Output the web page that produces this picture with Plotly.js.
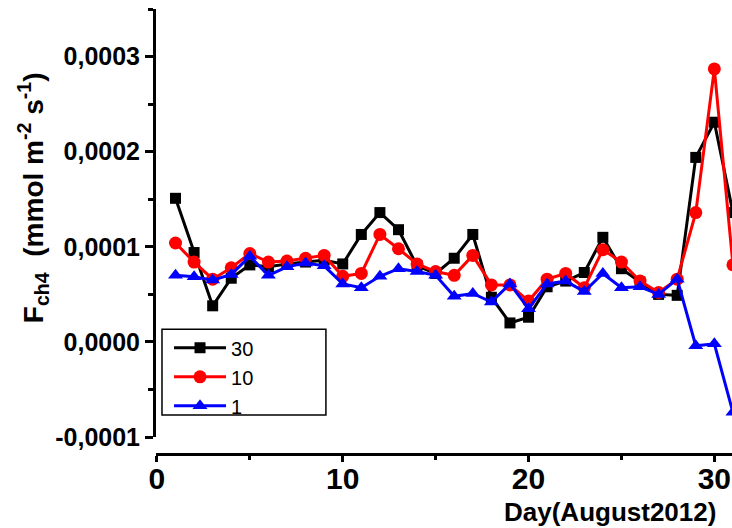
<!DOCTYPE html>
<html>
<head>
<meta charset="utf-8">
<script src="https://cdn.plot.ly/plotly-3.0.1.min.js"></script>
<style>html,body{margin:0;padding:0;background:#fff;}#chart{width:732px;height:528px;}</style>
</head>
<body>
<div id="chart"></div>
<script>
var days = [1,2,3,4,5,6,7,8,9,10,11,12,13,14,15,16,17,18,19,20,21,22,23,24,25,26,27,28,29,30,31];
var series30 = [0.000151,0.000094,0.000038,0.000067,0.000081,0.000079,0.000082,0.000084,0.000086,0.000082,0.000113,0.000136,0.000118,0.000080,0.000072,0.000088,0.000113,0.000047,0.000020,0.000026,0.000058,0.000064,0.000073,0.000110,0.000077,0.000063,0.000050,0.000049,0.000194,0.000231,0.000136];
var series10 = [0.000104,0.000084,0.000066,0.000078,0.000093,0.000084,0.000085,0.000088,0.000091,0.000069,0.000072,0.000113,0.000098,0.000082,0.000074,0.000070,0.000091,0.000060,0.000060,0.000043,0.000066,0.000072,0.000057,0.000097,0.000084,0.000064,0.000052,0.000066,0.000136,0.000287,0.000081];
var series1 = [0.000070,0.0000685,0.000065,0.000071,0.000090,0.000070,0.000079,0.000083,0.000080,0.000061,0.000057,0.000069,0.000077,0.000074,0.000070,0.000048,0.000051,0.000042,0.000061,0.000035,0.000061,0.000064,0.000053,0.000072,0.000057,0.000058,0.000050,0.000066,-0.000004,-0.000002,-0.000074];
var seriesNames = ['30','10','1'];
var xTicks = [0,10,20,30];
var yTicks = [-0.0001,0,0.0001,0.0002,0.0003];
var yTickText = ['-0,0001','0,0000','0,0001','0,0002','0,0003'];

var FONT = 'Liberation Sans, Arial, sans-serif';
var traces = [
  {x: days, y: series30, name: seriesNames[0], mode: 'lines+markers', type: 'scatter',
   line: {color: '#000000', width: 3}, marker: {symbol: 'square', size: 11, color: '#000000'}},
  {x: days, y: series10, name: seriesNames[1], mode: 'lines+markers', type: 'scatter',
   line: {color: '#ff0000', width: 3}, marker: {symbol: 'circle', size: 13, color: '#ff0000'}},
  {x: days, y: series1, name: seriesNames[2], mode: 'lines+markers', type: 'scatter',
   line: {color: '#0000ff', width: 3}, marker: {symbol: 'triangle-up', size: 13, color: '#0000ff'}}
];

var layout = {
  width: 732, height: 528,
  margin: {l: 156, r: 0, t: 9, b: 74, pad: 0},
  paper_bgcolor: '#ffffff', plot_bgcolor: '#ffffff',
  separators: ',.',
  showlegend: true,
  font: {family: FONT, color: '#000000'},
  xaxis: {
    range: [-0.05, 30.95], anchor: 'free', position: 0,
    showline: true, linecolor: '#000', linewidth: 3,
    showgrid: false, zeroline: false,
    ticks: 'outside', ticklen: 6, tickwidth: 3, tickcolor: '#000',
    tickvals: xTicks, ticktext: xTicks.map(String),
    ticklabelstandoff: -9,
    minor: {tickvals: [5,15,25], ticks: 'outside', ticklen: 4, tickwidth: 3, tickcolor: '#000', showgrid: false},
    tickfont: {family: FONT, size: 30, weight: 'bold', color: '#000'}
  },
  yaxis: {
    domain: [0.038, 1],
    range: [-0.0001000001, 0.0003500001],
    showline: true, linecolor: '#000', linewidth: 3,
    showgrid: false, zeroline: false,
    ticks: 'outside', ticklen: 8, tickwidth: 3, tickcolor: '#000',
    tickvals: yTicks, ticktext: yTickText,
    minor: {dtick: 0.00005, tick0: 0, ticks: 'outside', ticklen: 5, tickwidth: 3, tickcolor: '#000', showgrid: false},
    tickfont: {family: FONT, size: 25, weight: 'bold', color: '#000'}
  },
  legend: {
    x: 0.0226, y: 0.2825, xanchor: 'left', yanchor: 'top',
    bgcolor: 'rgba(0,0,0,0)', borderwidth: 0,
    itemwidth: 52,
    font: {family: FONT, size: 20, color: '#000'}
  },
  shapes: [
    {type: 'rect', xref: 'paper', yref: 'paper', x0: 0.0104, x1: 0.295, y0: 0.0874, y1: 0.2803,
     line: {color: '#000', width: 1.5}, fillcolor: '#ffffff', layer: 'below'}
  ],
  annotations: [
    {text: 'F<sub>ch4</sub>  (mmol m<sup>-2</sup> s<sup>-1</sup>)', xref: 'paper', yref: 'paper',
     x: -0.2135, y: 0.575, xanchor: 'center', yanchor: 'middle', textangle: -90, showarrow: false,
     font: {family: FONT, size: 28, weight: 'bold', color: '#000'}},
    {text: 'Day(August2012)', xref: 'paper', yref: 'paper',
     x: 0.788, y: -0.13, xanchor: 'center', yanchor: 'middle', showarrow: false,
     font: {family: FONT, size: 26, weight: 'bold', color: '#000'}}
  ]
};

Plotly.newPlot('chart', traces, layout, {displayModeBar: false, staticPlot: true});
</script>
</body>
</html>
